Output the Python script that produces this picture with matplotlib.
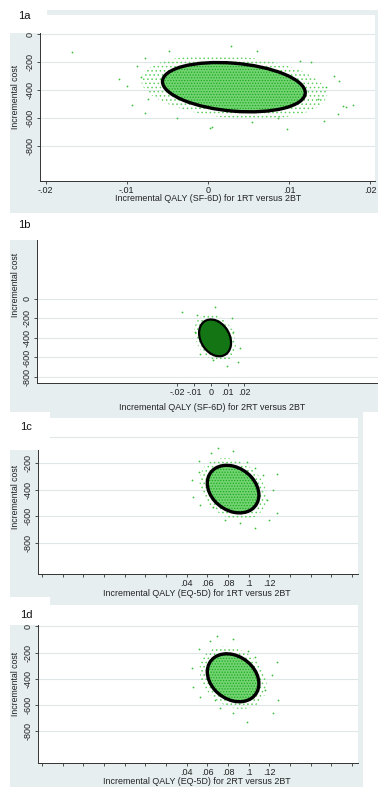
import numpy as np
import matplotlib
matplotlib.use('Agg')
import matplotlib.pyplot as plt
from matplotlib.patches import Circle, Rectangle
from matplotlib.transforms import Affine2D

plt.rcParams['font.family'] = ['Liberation Sans', 'DejaVu Sans']
plt.rcParams['hatch.linewidth'] = 0.6

# --- data ---
panel_labels = ['1a', '1b', '1c', '1d']
x_titles = ['Incremental QALY (SF-6D) for 1RT versus 2BT',
            'Incremental QALY (SF-6D) for 2RT versus 2BT',
            'Incremental QALY (EQ-5D) for 1RT versus 2BT',
            'Incremental QALY (EQ-5D) for 2RT versus 2BT']
y_title = 'Incremental cost'

sf_ticks = [-0.02, -0.01, 0, 0.01, 0.02]
sf_ticklabels = ['-.02', '-.01', '0', '.01', '.02']
eq_ticks = [-0.10, -0.08, -0.06, -0.04, -0.02, 0.00, 0.02, 0.04, 0.06, 0.08,
            0.10, 0.12, 0.14, 0.16, 0.18, 0.20]
eq_ticklabels = ['', '', '', '', '', '', '', '.04', '.06', '.08', '.1', '.12',
                 '', '', '', '']
cost_ticks = [0, -200, -400, -600, -800]
cost_ticklabels = ['0', '-200', '-400', '-600', '-800']

# confidence ellipse per panel: centre, half width (QALY), half height (cost), tilt term (cost)
ell_cx = [0.0032, 0.0026, 0.085, 0.085]
ell_cy = [-380, -399, -395, -391]
ell_ax = [0.0088, 0.0095, 0.025, 0.025]
ell_by = [172, 182, 174, 177]
ell_c = [-40, -50, -45, -45]

# scattered bootstrap replicates outside the dense core
out_x_1a = [-0.0168, -0.0109, -0.0093, -0.0078, -0.0038, 0.0005, -0.0088, -0.0078,
            -0.0048, -0.0100, -0.0074, -0.0082, 0.0028, 0.0060, 0.0114, 0.0127,
            0.0155, 0.0162, 0.0179, 0.0170, 0.0161, 0.0143, 0.0098, 0.0087,
            0.0136, 0.0002, 0.0054, 0.0146, 0.0166]
out_y_1a = [-130, -321, -506, -567, -598, -665, -227, -171, -118, -369, -465, -309,
            -86, -123, -190, -197, -297, -333, -506, -520, -573, -625, -680, -598,
            -465, -673, -632, -380, -513]
out_x_1b = [-0.0169, 0.0026, -0.0080, 0.0125, -0.0093, 0.0174, 0.0164, 0.0095,
            0.0015, -0.0064, 0.0135]
out_y_1b = [-134, -79, -165, -199, -337, -508, -646, -691, -629, -560, -337]
out_x_1c = [0.0706, 0.0632, 0.0851, 0.0522, 0.0981, 0.1061, 0.1142, 0.1278, 0.0448,
            0.0464, 0.0529, 0.1272, 0.1200, 0.1062, 0.0916, 0.0771, 0.0658, 0.1175,
            0.1240, 0.0522]
out_y_1c = [-82, -125, -105, -180, -188, -238, -288, -281, -326, -452, -515, -577,
            -628, -686, -653, -628, -528, -477, -402, -263]
out_x_1d = [0.0697, 0.0626, 0.0851, 0.0522, 0.0997, 0.1272, 0.0448, 0.0464, 0.0529,
            0.1287, 0.1233, 0.0987, 0.0851, 0.0723, 0.1158, 0.1223, 0.1062, 0.0674]
out_y_1d = [-73, -109, -98, -174, -187, -268, -319, -459, -535, -560, -661, -725,
            -661, -623, -484, -370, -230, -560]
out_x = [out_x_1a, out_x_1b, out_x_1c, out_x_1d]
out_y = [out_y_1a, out_y_1b, out_y_1c, out_y_1d]

# --- layout (pixels of a 378x787 canvas) ---
W, H = 378, 787
fig = plt.figure(figsize=(W / 100, H / 100), dpi=100)
fig.patch.set_facecolor('white')


def fbox(l, t, r, b):
    return [l / W, 1 - b / H, (r - l) / W, (b - t) / H]


region_color = '#e6eef0'
grid_color = '#dfe7e9'
green = '#36c236'

regions = [(10, 10, 378, 213), (10, 213, 378, 412), (10, 412, 363, 597), (10, 597, 363, 787)]
label_boxes = [(0, 0, 47, 33), (0, 213, 48, 240), (0, 412, 50, 450), (0, 597, 50, 625)]
label_pos = [(24, 16), (24, 225), (26, 427), (26, 615)]
ax_boxes = [(40, 15, 375, 181), (37, 213, 378, 383), (38, 418, 358, 574), (38, 605, 358, 763)]
xlims = [(-0.0207, 0.0206), (-0.1033, 0.0995), (-0.104, 0.206), (-0.104, 0.206)]
ylims = [(-1052, 137), (-862, 882), (-1036, 142), (-1040, 163)]
ylab_pos = [(16, 97), (15, 285), (15, 497), (16, 684)]
xtitle_pos = [(208, 199), (212, 407), (197, 594), (197, 781)]

for i in range(4):
    l, t, r, b = regions[i]
    fig.add_artist(Rectangle((l / W, 1 - b / H), (r - l) / W, (b - t) / H,
                             transform=fig.transFigure, facecolor=region_color,
                             edgecolor='none', zorder=-2))

    ax = fig.add_axes(fbox(*ax_boxes[i]))
    ax.set_facecolor('white')
    ax.set_xlim(*xlims[i])
    ax.set_ylim(*ylims[i])
    for s in ['top', 'right']:
        ax.spines[s].set_visible(False)
    for s in ['left', 'bottom']:
        ax.spines[s].set_color('#333333')
        ax.spines[s].set_linewidth(0.7)

    if i < 2:
        ax.set_xticks(sf_ticks)
        ax.set_xticklabels(sf_ticklabels)
    else:
        ax.set_xticks(eq_ticks)
        ax.set_xticklabels(eq_ticklabels)
    ax.set_yticks(cost_ticks)
    ax.set_yticklabels(cost_ticklabels, rotation=90, va='center')
    ax.tick_params(length=2.5, width=0.6, color='#333333', labelsize=6.5,
                   labelcolor='#222222', pad=1.2)
    ax.grid(axis='y', color=grid_color, linewidth=0.8)
    ax.set_axisbelow(True)

    # ellipse shape as affine image of the unit circle in data units
    m = np.array([[ell_ax[i], 0, ell_cx[i]], [ell_c[i], ell_by[i], ell_cy[i]], [0, 0, 1]])
    tr = Affine2D(m) + ax.transData
    ring = Circle((0, 0), 1.3, transform=tr, facecolor='none', edgecolor='#5fd05f',
                  linewidth=0, hatch='....', zorder=1)
    ax.add_patch(ring)
    ax.scatter(out_x[i], out_y[i], s=1.6, color=green, linewidths=0, zorder=2)
    if i == 1:
        core = Circle((0, 0), 1, transform=tr, facecolor='#137513', edgecolor='black',
                      linewidth=1.6, zorder=3)
        ax.add_patch(core)
    else:
        core = Circle((0, 0), 1, transform=tr, facecolor='#72d372', edgecolor='#1faa1f',
                      linewidth=0, hatch='......', zorder=3)
        ax.add_patch(core)
        ax.add_patch(Circle((0, 0), 1, transform=tr, facecolor='none',
                            edgecolor='black', linewidth=2.4, zorder=4))

    fig.text(ylab_pos[i][0] / W, 1 - ylab_pos[i][1] / H, y_title, rotation=90,
             ha='center', va='center', fontsize=6.3, color='#222222')
    fig.text(xtitle_pos[i][0] / W, 1 - xtitle_pos[i][1] / H, x_titles[i],
             ha='center', va='center', fontsize=6.4, color='#222222')

    l, t, r, b = label_boxes[i]
    fig.add_artist(Rectangle((l / W, 1 - b / H), (r - l) / W, (b - t) / H,
                             transform=fig.transFigure, facecolor='white',
                             edgecolor='none', zorder=5))
    fig.text(label_pos[i][0] / W, 1 - label_pos[i][1] / H, panel_labels[i],
             ha='center', va='center', fontsize=8, color='#111111', zorder=6)

fig.savefig('out.png', dpi=100)
